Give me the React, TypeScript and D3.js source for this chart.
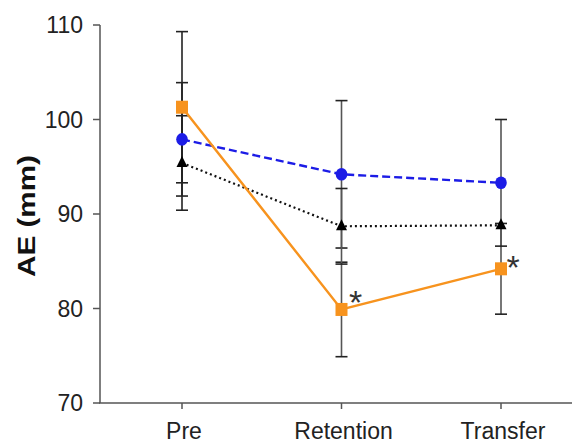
import React, { useEffect, useRef } from 'react';
import * as d3 from 'd3';

const categories = ['Pre', 'Retention', 'Transfer'];
const yTicks = [70, 80, 90, 100, 110];

const blueMean = [97.9, 94.2, 93.3];
const blueErr = [6.0, 7.8, 6.7];
const blackMean = [95.4, 88.7, 88.8];
const blackErr = [5.0, 4.0, 0];
const orangeMean = [101.3, 79.9, 84.2];
const orangeErr = [8.0, 5.0, 4.8];
const starred = [false, true, true];

const W = 572;
const H = 445;

const App = () => {
    const svgRef = useRef(null);

    useEffect(() => {
        const svg = d3.select(svgRef.current);
        svg.selectAll('*').remove();

        const x = d3.scalePoint().domain(categories).range([182, 501]);
        const y = d3.scaleLinear().domain([70, 110]).range([403, 25]);
        const font = 'Liberation Sans, Arial, sans-serif';
        const axisColor = '#555';

        // axes
        svg.append('line').attr('x1', 99).attr('x2', 572).attr('y1', y(70)).attr('y2', y(70))
            .style('stroke', axisColor).style('stroke-width', 1.5);
        svg.append('line').attr('x1', 100).attr('x2', 100).attr('y1', y(110)).attr('y2', y(70))
            .style('stroke', axisColor).style('stroke-width', 1.5);

        yTicks.forEach(t => {
            svg.append('line').attr('x1', 93).attr('x2', 100).attr('y1', y(t)).attr('y2', y(t))
                .style('stroke', axisColor).style('stroke-width', 1.5);
            svg.append('text').attr('x', 83).attr('y', y(t)).attr('dy', '0.36em')
                .attr('text-anchor', 'end').text(t)
                .style('font-family', font).style('font-size', '23px').style('fill', '#222');
        });

        categories.forEach(c => {
            svg.append('line').attr('x1', x(c)).attr('x2', x(c)).attr('y1', y(70)).attr('y2', y(70) + 6)
                .style('stroke', axisColor).style('stroke-width', 1.5);
            svg.append('text').attr('x', x(c) + 2).attr('y', 439).attr('text-anchor', 'middle').text(c)
                .style('font-family', font).style('font-size', '23px').style('fill', '#222');
        });

        svg.append('text')
            .attr('transform', `translate(35, 216) rotate(-90)`)
            .attr('text-anchor', 'middle').text('AE (mm)')
            .attr('textLength', 122).attr('lengthAdjust', 'spacingAndGlyphs')
            .style('font-family', font).style('font-size', '24px').style('font-weight', 'bold').style('fill', '#111');

        // error bars
        const series = [
            { mean: orangeMean, err: orangeErr },
            { mean: blueMean, err: blueErr },
            { mean: blackMean, err: blackErr },
        ];
        series.forEach(s => {
            categories.forEach((c, i) => {
                if (!s.err[i]) return;
                const cx = x(c);
                const lo = y(s.mean[i] - s.err[i]);
                const hi = y(s.mean[i] + s.err[i]);
                svg.append('line').attr('x1', cx).attr('x2', cx).attr('y1', lo).attr('y2', hi)
                    .style('stroke', i === 0 ? '#222' : '#555').style('stroke-width', 1.6);
                [lo, hi].forEach(v => {
                    svg.append('line').attr('x1', cx - 6).attr('x2', cx + 6).attr('y1', v).attr('y2', v)
                        .style('stroke', '#222').style('stroke-width', 1.6);
                });
            });
        });

        const line = d3.line<number>().x((d, i) => x(categories[i])).y(d => y(d));

        svg.append('path').datum(blackMean).attr('d', line)
            .style('fill', 'none').style('stroke', '#111').style('stroke-width', 2.2)
            .style('stroke-dasharray', '2,3');
        svg.append('path').datum(blueMean).attr('d', line)
            .style('fill', 'none').style('stroke', '#1c1ce6').style('stroke-width', 2.4)
            .style('stroke-dasharray', '8,4');
        svg.append('path').datum(orangeMean).attr('d', line)
            .style('fill', 'none').style('stroke', '#f7931e').style('stroke-width', 2.4);

        // markers
        blackMean.forEach((v, i) => {
            const cx = x(categories[i]);
            const cy = y(v);
            svg.append('path')
                .attr('d', `M${cx},${cy - 7}L${cx + 5.5},${cy + 4}L${cx - 5.5},${cy + 4}Z`)
                .style('fill', '#000');
        });
        blueMean.forEach((v, i) => {
            svg.append('ellipse').attr('cx', x(categories[i])).attr('cy', y(v)).attr('rx', 5.8).attr('ry', 6.3)
                .style('fill', '#1c1ce6');
        });
        orangeMean.forEach((v, i) => {
            svg.append('rect').attr('x', x(categories[i]) - 6).attr('y', y(v) - 6.5)
                .attr('width', 12).attr('height', 13).style('fill', '#f7931e');
        });

        orangeMean.forEach((v, i) => {
            if (!starred[i]) return;
            const dx = i === 1 ? 14 : 12;
            const dy = i === 1 ? 5 : 10;
            svg.append('text').attr('x', x(categories[i]) + dx).attr('y', y(v) + dy)
                .attr('text-anchor', 'middle')
                .text('*').style('font-family', font).style('font-size', '34px').style('fill', '#333');
        });
    }, []);

    return (
        <svg ref={svgRef} width={W} height={H}
            style={{ position: 'absolute', left: 0, top: 0, background: '#fff' }} />
    );
};

export default App;
